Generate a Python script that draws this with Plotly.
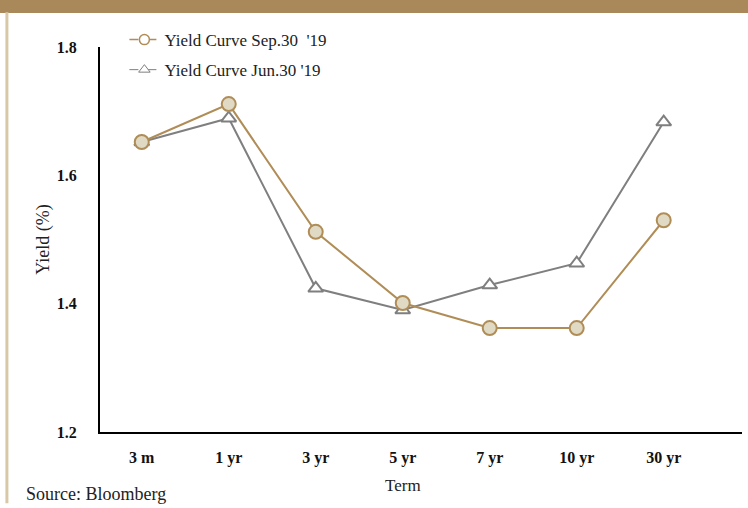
import plotly.graph_objects as go

terms = ["3 m", "1 yr", "3 yr", "5 yr", "7 yr", "10 yr", "30 yr"]
sep30 = [1.652, 1.711, 1.512, 1.401, 1.362, 1.362, 1.530]
jun30 = [1.652, 1.689, 1.424, 1.390, 1.429, 1.463, 1.683]
y_ticks = [1.2, 1.4, 1.6, 1.8]

gold = "#b08d57"
gray = "#7f7f7f"
font_fam = "Liberation Serif, Times New Roman, serif"
xs = list(range(len(terms)))

fig = go.Figure()
fig.add_trace(go.Scatter(x=xs, y=jun30, mode="lines+markers", showlegend=False,
                         line=dict(color=gray, width=2),
                         marker=dict(symbol="triangle-up", size=13, color="white",
                                     line=dict(color=gray, width=2))))
fig.add_trace(go.Scatter(x=xs, y=sep30, mode="lines+markers", showlegend=False,
                         line=dict(color=gold, width=2),
                         marker=dict(symbol="circle", size=14, color="#e0dac4",
                                     line=dict(color=gold, width=2))))
# legend-only entries
fig.add_trace(go.Scatter(x=[None], y=[None], mode="lines+markers", name="Yield Curve Sep.30  '19",
                         legend="legend",
                         line=dict(color=gold, width=1.5, dash="dash"),
                         marker=dict(symbol="circle", size=10, color="white",
                                     line=dict(color=gold, width=1.5))))
fig.add_trace(go.Scatter(x=[None], y=[None], mode="lines+markers", name="Yield Curve Jun.30 '19",
                         legend="legend2",
                         line=dict(color=gray, width=1, dash="dash"),
                         marker=dict(symbol="triangle-up", size=10, color="white",
                                     line=dict(color=gray, width=1))))

legfont = dict(size=17, family=font_fam, color="#222")
fig.update_layout(
    width=748, height=508,
    margin=dict(l=100, r=6, t=47, b=76),
    paper_bgcolor="white", plot_bgcolor="white",
    font=dict(family=font_fam, size=15, color="#222"),
    showlegend=True,
    legend=dict(x=0.038, y=1.018, xanchor="left", yanchor="middle", bgcolor="rgba(0,0,0,0)",
                font=legfont, itemwidth=30),
    legend2=dict(x=0.038, y=0.94, xanchor="left", yanchor="middle", bgcolor="rgba(0,0,0,0)",
                 font=legfont, itemwidth=30),
    xaxis=dict(range=[-0.48, 6.9], tickvals=xs, ticktext=["<b>%s</b>" % t for t in terms],
               showgrid=False, zeroline=False, showline=True, linecolor="black", linewidth=2,
               ticks="", ticklabelstandoff=10, tickfont=dict(size=16, family=font_fam, color="#111")),
    yaxis=dict(range=[1.2, 1.8], tickvals=y_ticks, ticktext=["<b>%.1f</b>" % v for v in y_ticks],
               showgrid=False, zeroline=False, showline=True, linecolor="black", linewidth=2,
               ticks="", ticklabelstandoff=18, tickfont=dict(size=16, family=font_fam, color="#111"),
               title=dict(text="Yield (%)", font=dict(size=18, family=font_fam, color="#222"), standoff=2)),
    shapes=[
        dict(type="rect", xref="paper", yref="paper", x0=-0.2, x1=1.02, y0=1.088,
             y1=1.2, line=dict(width=0), fillcolor="#a98959", layer="below"),
        dict(type="line", xref="paper", yref="paper", x0=-0.145, x1=-0.145, y0=-0.185, y1=1.09,
             line=dict(color="#d8c8a8", width=3)),
    ],
    annotations=[
        dict(text="Term", xref="x", yref="paper", x=3, y=-0.14,
             xanchor="center", yanchor="middle", showarrow=False,
             font=dict(size=17, family=font_fam, color="#222")),
        dict(text="Source: Bloomberg", xref="paper", yref="paper", x=-0.119, y=-0.16,
             xanchor="left", yanchor="middle", showarrow=False,
             font=dict(size=18, family=font_fam, color="#222")),
    ],
)
fig.write_html("out.html")
